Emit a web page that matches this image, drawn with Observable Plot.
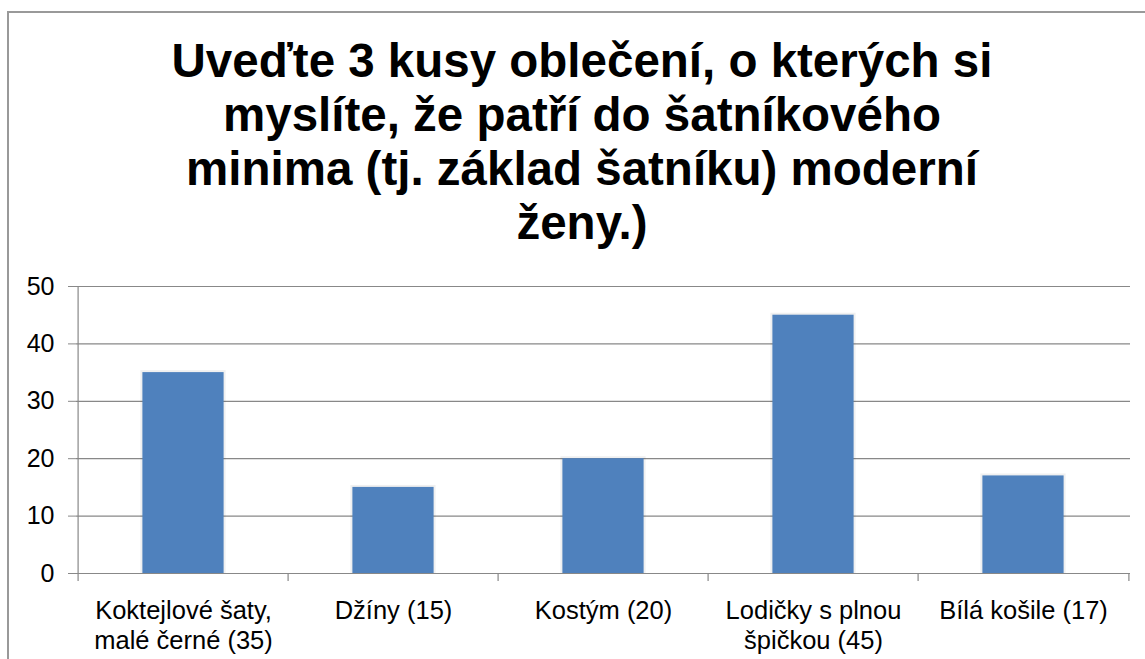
<!DOCTYPE html>
<html>
<head>
<meta charset="utf-8">
<script src="https://cdn.jsdelivr.net/npm/d3@7"></script>
<script src="https://cdn.jsdelivr.net/npm/@observablehq/plot@0.6"></script>
<style>
  html, body { margin: 0; padding: 0; background: #fff; }
  body { width: 1145px; height: 659px; position: relative; overflow: hidden; font-family: "Liberation Sans", Arial, sans-serif; }
  #frame { position: absolute; left: 7px; top: 11px; width: 1200px; height: 700px; border: 2px solid #999; box-sizing: border-box; }
  #title { position: absolute; left: 82px; width: 1000px; top: 34px; text-align: center; font-weight: bold; font-size: 47.5px; line-height: 54px; color: #000; }
  #chart { position: absolute; left: 0; top: 260px; }
</style>
</head>
<body>
<div id="frame"></div>
<div id="title"></div>
<div id="chart"></div>
<script>
const titleLines = [
  "Uveďte 3 kusy oblečení, o kterých si",
  "myslíte, že patří do šatníkového",
  "minima (tj. základ šatníku) moderní",
  "ženy.)"
];
const categories = [
  "Koktejlové šaty,\nmalé černé (35)",
  "Džíny (15)",
  "Kostým (20)",
  "Lodičky s plnou\nšpičkou (45)",
  "Bílá košile (17)"
];
const values = [35, 15, 20, 45, 17];
const yTicks = [0, 10, 20, 30, 40, 50];

document.getElementById("title").innerHTML = titleLines.join("<br>");

const data = categories.map((c, i) => ({cat: c, value: values[i]}));
const W = 1145, H = 399;
const mL = 76, mR = 15;
const band = (W - mL - mR) / categories.length;
const half = band / 2;
const barInset = (band - 82) / 2;
const grey = "#888";

const chart = Plot.plot({
  width: W,
  height: H,
  marginLeft: mL,
  marginRight: mR,
  marginTop: 26,
  marginBottom: 86,
  style: {fontFamily: "'Liberation Sans', Arial, sans-serif", fontSize: "25px", color: "#000", background: "transparent"},
  x: {domain: categories, padding: 0, label: null},
  y: {domain: [0, 50], label: null},
  marks: [
    Plot.ruleY(yTicks.filter(d => d > 0), {stroke: grey, strokeWidth: 1.2}),
    Plot.axisY({ticks: yTicks, tickSize: 8, tickPadding: 14, stroke: grey, fill: "#000", fontSize: 25, label: null}),
    Plot.ruleX([categories[0]], {dx: -half, y1: 0, y2: 50, stroke: grey, strokeWidth: 1.2}),
    Plot.rectY(data, {x: "cat", y: "value", fill: "#000", fillOpacity: 0.06, insetLeft: barInset - 2, insetRight: barInset - 2, insetTop: -2}),
    Plot.rectY(data, {x: "cat", y: "value", fill: "#4F81BD", insetLeft: barInset, insetRight: barInset}),
    Plot.ruleY([0], {stroke: grey, strokeWidth: 1.2}),
    Plot.axisX({tickSize: 8, tickFormat: () => "", dx: -half, stroke: grey, strokeWidth: 1.2}),
    Plot.axisX([categories[categories.length - 1]], {tickSize: 8, tickFormat: () => "", dx: half, stroke: grey, strokeWidth: 1.2}),
    Plot.axisX({tickSize: 0, tickPadding: 24, fontSize: 25.5, lineHeight: 1.18, fill: "#000", label: null})
  ]
});
document.getElementById("chart").appendChild(chart);
</script>
</body>
</html>
